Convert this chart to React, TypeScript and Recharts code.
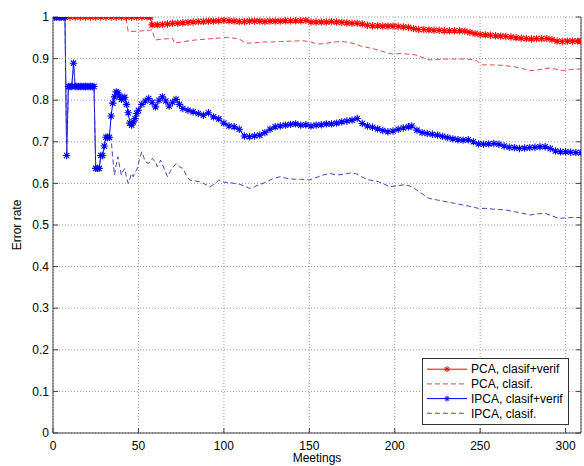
import React from 'react';
import { LineChart, Line, XAxis, YAxis, CartesianGrid, Legend } from 'recharts';

const xTicks = [0, 50, 100, 150, 200, 250, 300];
const yTicks = [0, 0.1, 0.2, 0.3, 0.4, 0.5, 0.6, 0.7, 0.8, 0.9, 1];
const seriesNames = ['PCA, clasif+verif', 'PCA, clasif.', 'IPCA, clasif+verif', 'IPCA, clasif.'];
const seriesColors = ['#ff0000', '#e84848', '#0000ff', '#4646b4'];

// [meeting, error rate]
const pcaVerif: [number, number][] = [
  [1, 1], [4, 1], [7, 1], [10, 1], [13, 1], [16, 1], [19, 1], [22, 1], [25, 1], [28, 1], [31, 1], [34, 1], [37, 1],
  [40, 1], [43, 1], [46, 1], [49, 1], [52, 1], [55, 1], [57, 1], [58, 0.981], [61, 0.981], [64, 0.982], [67, 0.983],
  [70, 0.985], [73, 0.985], [76, 0.986], [79, 0.987], [82, 0.988], [85, 0.989], [88, 0.989], [91, 0.99], [94, 0.99],
  [97, 0.991], [100, 0.992], [103, 0.991], [106, 0.99], [109, 0.989], [112, 0.989], [115, 0.99], [118, 0.99],
  [121, 0.99], [124, 0.989], [127, 0.99], [130, 0.99], [133, 0.99], [136, 0.991], [139, 0.991], [142, 0.991],
  [145, 0.991], [148, 0.992], [151, 0.988], [154, 0.988], [157, 0.988], [160, 0.988], [163, 0.989], [166, 0.988],
  [169, 0.987], [172, 0.986], [175, 0.985], [178, 0.985], [181, 0.983], [184, 0.98], [187, 0.979], [190, 0.979],
  [193, 0.978], [196, 0.978], [199, 0.978], [202, 0.977], [205, 0.976], [208, 0.975], [211, 0.972], [214, 0.97],
  [217, 0.97], [220, 0.969], [223, 0.968], [226, 0.968], [229, 0.967], [232, 0.967], [235, 0.967], [238, 0.967],
  [241, 0.966], [244, 0.963], [247, 0.96], [250, 0.958], [253, 0.957], [256, 0.956], [259, 0.955], [262, 0.954],
  [265, 0.953], [268, 0.952], [271, 0.95], [274, 0.949], [277, 0.948], [280, 0.947], [283, 0.948], [286, 0.948],
  [289, 0.948], [292, 0.946], [295, 0.942], [298, 0.941], [301, 0.942], [304, 0.942], [307, 0.942], [309, 0.942],
];

const pcaClasif: [number, number][] = [
  [1, 1], [42, 1], [43, 0.99], [44, 0.965], [50, 0.966], [56, 0.968], [58, 0.969], [59, 0.955], [60, 0.945],
  [65, 0.947], [70, 0.949], [71, 0.937], [75, 0.94], [80, 0.943], [84, 0.945], [90, 0.947], [96, 0.949],
  [102, 0.951], [106, 0.949], [109, 0.947], [113, 0.937], [118, 0.938], [123, 0.94], [128, 0.94], [133, 0.941],
  [140, 0.942], [146, 0.943], [150, 0.941], [153, 0.937], [156, 0.935], [160, 0.937], [165, 0.94], [169, 0.941],
  [173, 0.939], [177, 0.935], [181, 0.929], [185, 0.926], [189, 0.922], [193, 0.917], [196, 0.913], [199, 0.911],
  [203, 0.912], [207, 0.911], [212, 0.909], [216, 0.903], [220, 0.897], [225, 0.898], [230, 0.899], [235, 0.899],
  [240, 0.899], [244, 0.898], [248, 0.895], [251, 0.885], [256, 0.885], [262, 0.884], [269, 0.881], [274, 0.877],
  [279, 0.871], [284, 0.873], [290, 0.877], [294, 0.875], [298, 0.871], [303, 0.874], [309, 0.875],
];

const ipcaVerif: [number, number][] = [
  [1, 1], [2, 1], [3, 1], [4, 1], [5, 1], [6, 1], [7, 1], [8, 0.667], [9, 0.833], [10, 0.833], [11, 0.833],
  [12, 0.889], [13, 0.833], [14, 0.833], [15, 0.833], [16, 0.833], [17, 0.833], [18, 0.833], [19, 0.833],
  [20, 0.833], [21, 0.833], [22, 0.833], [23, 0.833], [24, 0.833], [25, 0.636], [26, 0.636], [27, 0.636],
  [28, 0.667], [29, 0.667], [30, 0.69], [31, 0.711], [32, 0.711], [33, 0.711], [34, 0.762], [35, 0.793],
  [36, 0.808], [37, 0.82], [38, 0.818], [39, 0.81], [40, 0.802], [41, 0.805], [42, 0.807], [43, 0.79], [44, 0.77],
  [45, 0.745], [46, 0.74], [47, 0.748], [48, 0.756], [49, 0.768], [50, 0.776], [52, 0.79], [54, 0.798],
  [56, 0.804], [58, 0.795], [60, 0.784], [62, 0.8], [64, 0.808], [66, 0.798], [68, 0.786], [70, 0.795],
  [72, 0.802], [74, 0.79], [76, 0.78], [79, 0.776], [82, 0.772], [85, 0.768], [88, 0.764], [91, 0.77], [94, 0.76],
  [97, 0.755], [100, 0.745], [103, 0.738], [106, 0.736], [109, 0.73], [112, 0.714], [115, 0.712], [118, 0.714],
  [121, 0.716], [124, 0.722], [127, 0.73], [130, 0.736], [133, 0.738], [136, 0.74], [139, 0.742], [142, 0.743],
  [145, 0.74], [148, 0.741], [151, 0.738], [154, 0.74], [157, 0.741], [160, 0.743], [163, 0.743], [166, 0.745],
  [169, 0.748], [172, 0.75], [175, 0.752], [178, 0.756], [181, 0.744], [184, 0.738], [187, 0.735], [190, 0.731],
  [193, 0.727], [196, 0.724], [199, 0.726], [202, 0.73], [205, 0.733], [208, 0.736], [210, 0.738], [213, 0.728],
  [216, 0.722], [219, 0.72], [222, 0.718], [225, 0.716], [228, 0.713], [231, 0.71], [234, 0.707], [237, 0.705],
  [240, 0.704], [243, 0.705], [246, 0.7], [249, 0.695], [252, 0.694], [255, 0.695], [258, 0.696], [261, 0.694],
  [264, 0.69], [267, 0.687], [270, 0.686], [273, 0.684], [276, 0.685], [279, 0.686], [282, 0.687], [285, 0.688],
  [288, 0.688], [291, 0.684], [294, 0.678], [297, 0.676], [300, 0.676], [303, 0.675], [306, 0.674], [309, 0.674],
];

const ipcaClasif: [number, number][] = [
  [1, 1], [7, 1], [8, 0.667], [9, 0.833], [11, 0.833], [12, 0.889], [13, 0.833], [24, 0.833], [25, 0.636],
  [27, 0.636], [28, 0.667], [29, 0.667], [30, 0.69], [31, 0.711], [33, 0.711], [34, 0.708], [35, 0.66],
  [36, 0.62], [37, 0.645], [38, 0.664], [39, 0.64], [40, 0.62], [41, 0.63], [42, 0.636], [43, 0.615], [44, 0.6],
  [45, 0.612], [46, 0.624], [47, 0.616], [48, 0.628], [49, 0.632], [50, 0.648], [51, 0.664], [52, 0.676],
  [53, 0.664], [54, 0.652], [56, 0.648], [58, 0.66], [60, 0.652], [61, 0.64], [63, 0.656], [65, 0.636],
  [67, 0.616], [69, 0.632], [72, 0.648], [74, 0.64], [76, 0.636], [78, 0.62], [80, 0.608], [83, 0.606],
  [86, 0.604], [89, 0.598], [92, 0.592], [95, 0.6], [97, 0.608], [100, 0.603], [103, 0.602], [106, 0.6],
  [109, 0.598], [112, 0.594], [115, 0.588], [118, 0.592], [121, 0.598], [123, 0.6], [126, 0.606], [129, 0.612],
  [133, 0.616], [137, 0.612], [141, 0.61], [145, 0.61], [150, 0.608], [154, 0.614], [158, 0.62], [162, 0.624],
  [166, 0.62], [170, 0.622], [174, 0.625], [177, 0.624], [181, 0.615], [185, 0.608], [189, 0.606], [193, 0.6],
  [197, 0.592], [201, 0.594], [206, 0.597], [210, 0.592], [215, 0.578], [220, 0.564], [225, 0.56], [230, 0.556],
  [235, 0.552], [240, 0.548], [245, 0.544], [249, 0.54], [253, 0.54], [258, 0.538], [265, 0.536], [270, 0.532],
  [275, 0.528], [279, 0.524], [284, 0.527], [288, 0.528], [292, 0.522], [296, 0.516], [300, 0.517], [304, 0.518],
  [309, 0.518],
];

const FONT = '"Liberation Sans", Arial, Helvetica, sans-serif';
const toPoints = (arr: [number, number][]) => arr.map(([x, y]) => ({ x, y }));

function starPath(cx: number, cy: number, r: number) {
  const d = r * 0.72;
  return `M${cx - r},${cy}h${2 * r}M${cx},${cy - r}v${2 * r}M${cx - d},${cy - d}l${2 * d},${2 * d}M${cx - d},${cy + d}l${2 * d},${-2 * d}`;
}

function makeStar(color: string) {
  return (props: any) => {
    const { cx, cy, index } = props;
    if (typeof cx !== 'number' || typeof cy !== 'number') return <g key={`s-${index}`} />;
    return <path key={`s-${index}`} d={starPath(cx, cy, 3.7)} stroke={color} strokeWidth={1.1} fill="none" />;
  };
}

const legendMarkers = [true, false, true, false];
const legendDashed = [false, true, false, true];

const renderLegend = () => (
  <svg width={148} height={68} style={{ display: 'block' }}>
    <rect x={0.5} y={0.5} width={146} height={66} fill="#ffffff" stroke="#333333" strokeWidth={1} />
    {seriesNames.map((name, i) => {
      const y = 11.2 + i * 14.7;
      const color = seriesColors[i];
      return (
        <g key={name}>
          <line x1={5} x2={45} y1={y} y2={y} stroke={color} strokeWidth={1} strokeDasharray={legendDashed[i] ? '5 3' : undefined} />
          {legendMarkers[i] && <path d={starPath(25, y, 3)} stroke={color} strokeWidth={1} fill="none" />}
          <text x={49} y={y + 4.2} fontSize={12} fontFamily={FONT} fill="#000">{name}</text>
        </g>
      );
    })}
  </svg>
);

export default function App() {
  const tickStyle = { fill: '#000', fontSize: 12, fontFamily: FONT };
  return (
    <div style={{ position: 'absolute', left: 0, top: 0, background: '#fff' }}>
      <LineChart width={584} height={466} margin={{ top: 17, right: 0, bottom: 0, left: 0 }}>
        <CartesianGrid stroke="#9a9a9a" strokeDasharray="1 2" />
        <XAxis
          dataKey="x"
          type="number"
          domain={[0, 309]}
          ticks={xTicks}
          allowDataOverflow
          interval={0}
          height={33}
          tickSize={-5}
          tickMargin={13}
          stroke="#404040"
          tick={tickStyle}
          label={{ value: 'Meetings', position: 'insideBottom', offset: 4, fill: '#000', fontSize: 12, fontFamily: FONT }}
        />
        <XAxis
          xAxisId="top"
          orientation="top"
          type="number"
          domain={[0, 309]}
          ticks={xTicks}
          allowDataOverflow
          interval={0}
          height={0}
          tickSize={-5}
          stroke="#404040"
          tickFormatter={() => ''}
        />
        <YAxis
          type="number"
          domain={[0, 1]}
          ticks={yTicks}
          allowDataOverflow
          interval={0}
          width={53}
          tickSize={-5}
          tickMargin={9}
          stroke="#404040"
          tick={tickStyle}
          label={{ value: 'Error rate', angle: -90, position: 'insideLeft', offset: 17, fill: '#000', fontSize: 12, fontFamily: FONT, style: { textAnchor: 'middle' } }}
        />
        <YAxis
          yAxisId="right"
          orientation="right"
          type="number"
          domain={[0, 1]}
          ticks={yTicks}
          allowDataOverflow
          interval={0}
          width={3}
          tickSize={-5}
          stroke="#404040"
          tickFormatter={() => ''}
        />
        <Line data={toPoints(pcaVerif)} dataKey="y" name={seriesNames[0]} stroke={seriesColors[0]} strokeWidth={1}
          dot={makeStar(seriesColors[0])} activeDot={false} isAnimationActive={false} />
        <Line data={toPoints(pcaClasif)} dataKey="y" name={seriesNames[1]} stroke={seriesColors[1]} strokeWidth={1}
          strokeDasharray="5 3" dot={false} activeDot={false} isAnimationActive={false} />
        <Line data={toPoints(ipcaVerif)} dataKey="y" name={seriesNames[2]} stroke={seriesColors[2]} strokeWidth={1}
          dot={makeStar(seriesColors[2])} activeDot={false} isAnimationActive={false} />
        <Line data={toPoints(ipcaClasif)} dataKey="y" name={seriesNames[3]} stroke={seriesColors[3]} strokeWidth={1}
          strokeDasharray="5 3" dot={false} activeDot={false} isAnimationActive={false} />
        <Legend
          layout="vertical"
          align="center"
          verticalAlign="middle"
          content={renderLegend}
          wrapperStyle={{ position: 'absolute', left: 422, top: 358, width: 148, height: 68, margin: 0, padding: 0 }}
        />
      </LineChart>
    </div>
  );
}
